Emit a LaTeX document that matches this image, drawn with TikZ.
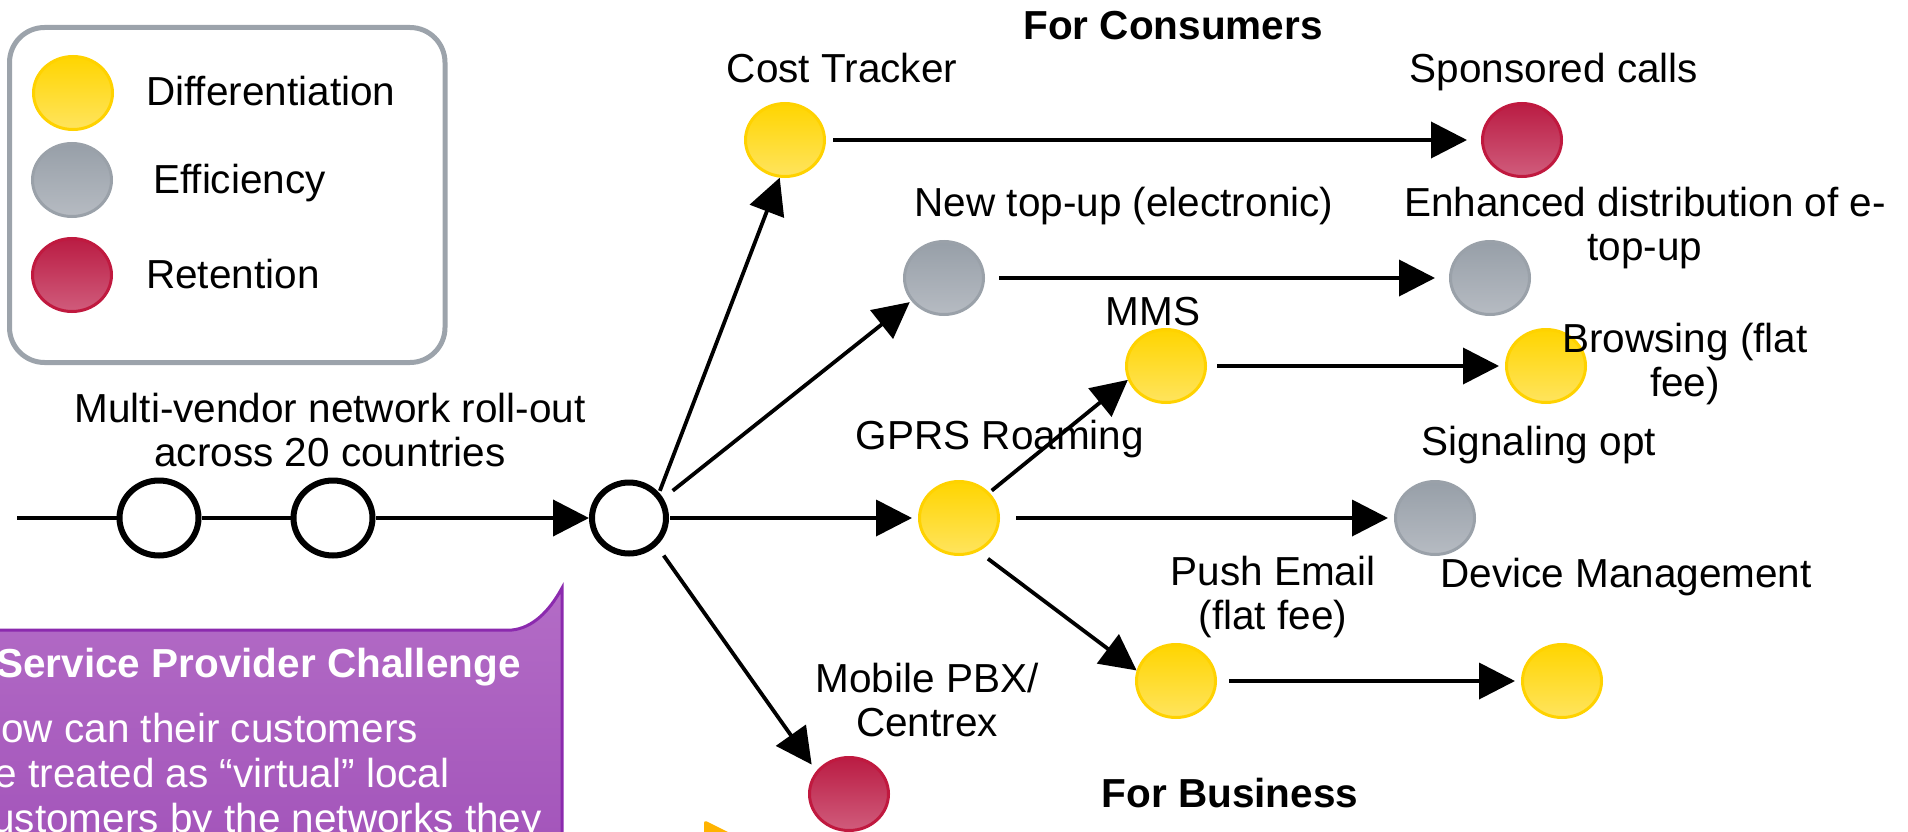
\documentclass[tikz,border=0pt]{standalone}
\usepackage{fontspec}
\setmainfont{Liberation Sans}
\usetikzlibrary{arrows.meta,shapes.geometric}

\definecolor{yelline}{HTML}{FFD200}
\definecolor{yeltop}{HTML}{FFD500}
\definecolor{yelbot}{HTML}{FFE45E}
\definecolor{grayline}{HTML}{9AA1A9}
\definecolor{graytop}{HTML}{979FA8}
\definecolor{graybot}{HTML}{B6BBC2}
\definecolor{redline}{HTML}{C0193F}
\definecolor{redtop}{HTML}{BA1C43}
\definecolor{redbot}{HTML}{D05C7C}
\definecolor{boxline}{HTML}{9CA3AB}
\definecolor{purpline}{HTML}{8B2AAE}
\definecolor{purptop}{HTML}{B36CC6}
\definecolor{purpbot}{HTML}{A050B8}
\definecolor{arrowor}{HTML}{FFB300}

\begin{document}
\begin{tikzpicture}[x=1pt,y=-1pt,
  font=\fontsize{40.5}{44}\selectfont,
  dot/.style={ellipse,inner sep=0pt,minimum width=79pt,minimum height=73pt,line width=3pt},
  diff/.style={dot,draw=yelline,top color=yeltop,bottom color=yelbot},
  effi/.style={dot,draw=grayline,top color=graytop,bottom color=graybot},
  reten/.style={dot,draw=redline,top color=redtop,bottom color=redbot},
  ring/.style={ellipse,draw,line width=6pt,fill=white,inner sep=0pt},
  lbl/.style={anchor=base,align=center,inner sep=0pt},
  link/.style={line width=3.8pt,-{Triangle[length=36pt,width=36pt]},
        shorten <=10pt,shorten >=6pt}]
 \useasboundingbox (0,0) rectangle (1908,832);
 \clip (0,0) rectangle (1908,832);

 % legend
 \draw[boxline,line width=5pt,rounded corners=35pt] (9.5,27.5) rectangle (445,362.5);
 \node[diff]  (ldiff)  at (73,93)  {};
 \node[effi]  (leffi)  at (72,180) {};
 \node[reten] (lreten) at (72,275) {};
 \node[anchor=base west,inner sep=0pt] (tdiff)  at (146,106) {Differentiation};
 \node[anchor=base west,inner sep=0pt] (teffi)  at (153,193) {Efficiency};
 \node[anchor=base west,inner sep=0pt] (treten) at (146,288) {Retention};

 % roll-out line
 \coordinate (start) at (17,518);
 \node[ring,minimum width=79pt,minimum height=75pt] (ring1) at (159,518) {};
 \node[ring,minimum width=79pt,minimum height=75pt] (ring2) at (333,518) {};
 \node[ring,minimum width=74pt,minimum height=71pt] (hub)   at (629,518) {};
 \node[lbl] (troll) at (330,466) {Multi-vendor network roll-out\\across 20 countries};

 % services
 \node[diff]  (ct)   at (785,140)  {};
 \node[reten] (sc)   at (1522,140) {};
 \node[effi]  (ntu)  at (944,278)  {};
 \node[effi]  (etu)  at (1490,278) {};
 \node[diff]  (mms)  at (1166,366) {};
 \node[diff]  (brw)  at (1546,366) {};
 \node[diff]  (gprs) at (959,518)  {};
 \node[effi]  (sig)  at (1435,518) {};
 \node[diff]  (push) at (1176,681) {};
 \node[diff]  (fin)  at (1562,681) {};
 \node[reten] (mob)  at (849,794)  {};

 \node[lbl,font=\fontsize{40.5}{44}\selectfont\bfseries] (tcons) at (1173,40) {For Consumers};
 \node[lbl,font=\fontsize{40.5}{44}\selectfont\bfseries] (tbus)  at (1230,807) {For Business};
 \node[lbl] (tct)   at (842,83)   {Cost Tracker};
 \node[lbl] (tsc)   at (1554,83)  {Sponsored calls};
 \node[lbl] (tntu)  at (1124,216) {New top-up (electronic)};
 \node[lbl] (tetu)  at (1645,260) {Enhanced distribution of e-\\top-up};
 \node[lbl] (tmms)  at (1153,325) {MMS};
 \node[lbl] (tbrw)  at (1685,396) {Browsing (flat\\fee)};
 \node[lbl] (tgprs) at (1000,449) {GPRS Roaming};
 \node[lbl] (tsig)  at (1539,455) {Signaling opt};
 \node[lbl] (tpush) at (1273,629) {Push Email\\(flat fee)};
 \node[lbl] (tdev)  at (1626,587) {Device Management};
 \node[lbl] (tmob)  at (927,736)  {Mobile PBX/\\Centrex};

 \draw[line width=4pt] (start) -- (ring1) -- (ring2);
 \draw[link,line width=4pt,shorten <=0pt,shorten >=0pt] (ring2) -- (hub);
 \draw[link,shorten <=2pt,shorten >=0pt] (hub.40) -- (ct.262);
 \draw[link,shorten <=12pt,shorten >=2pt] (hub.30) -- (ntu.215);
 \draw[link,shorten <=1pt] (hub) -- (gprs);
 \draw[link,shorten <=12pt,shorten >=8pt] (hub.-45) -- (mob.145);
 \draw[link,shorten <=3pt,shorten >=0pt] (gprs.40) -- (mms.200);
 \draw[link,shorten <=12pt,shorten >=0pt] (gprs.-60) -- (push.165);
 \draw[link,shorten <=7pt,shorten >=14pt] (ct) -- (sc);
 \draw[link,shorten <=14pt,shorten >=14pt] (ntu) -- (etu);
 \draw[link] (mms) -- (brw);
 \draw[link,shorten <=16pt] (gprs) -- (sig);
 \draw[link,shorten <=12pt] (push) -- (fin);

 % challenge callout
 \path[draw=purpline,line width=3pt,top color=purptop,bottom color=purpbot]
   (-20,630) -- (512,630) .. controls (532,628) and (549,612) .. (562,588)
   -- (562,900) -- (-20,900) -- cycle;
 \node[anchor=base east,inner sep=0pt,text=white,font=\fontsize{40.5}{44}\selectfont\bfseries]
   (tchal) at (521,677) {Service Provider Challenge};
 \node[anchor=base west,align=left,inner sep=0pt,text=white,font=\fontsize{40.5}{45}\selectfont]
   (tquest) at (-28,832) {How can their customers\\be treated as “virtual” local\\customers by the networks they};

 \fill[arrowor,rounded corners=3pt] (704,820) -- (764,850) -- (704,880) -- cycle;
\end{tikzpicture}
\end{document}
